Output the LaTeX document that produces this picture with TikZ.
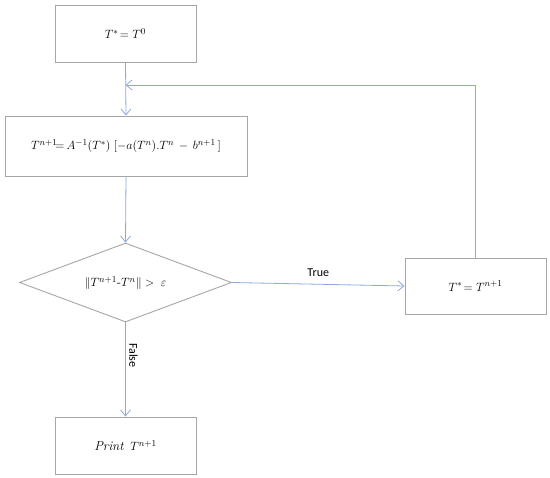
\documentclass[tikz,border=0pt]{standalone}
\usepackage{fontspec}
\newfontfamily\labelfont{Carlito}
\usetikzlibrary{arrows.meta,shapes.geometric}
\definecolor{boxgray}{HTML}{A6A6A6}
\definecolor{linkblue}{HTML}{8EA9DB}
\tikzset{
  boxnode/.style={draw=boxgray, line width=0.9pt, minimum width=#1, minimum height=57pt, inner sep=0pt, font=\fontsize{13}{15}\selectfont},
  decnode/.style={draw=boxgray, line width=0.9pt, diamond, minimum width=212pt, minimum height=79pt, inner sep=0pt, font=\fontsize{13}{15}\selectfont},
  link/.style={draw=linkblue, line width=0.8pt, -{Straight Barb[length=6pt,width=10pt]}},
  linkplain/.style={draw=linkblue, line width=0.8pt},
  lbl/.style={font=\labelfont\fontsize{12}{14}\selectfont}
}
\begin{document}
\begin{tikzpicture}[x=1pt,y=-1pt]
\useasboundingbox (0,0) rectangle (550,478);
\node[boxnode=141pt] (init) at (125.5,33.5) {$T^{*}\!=T^{0}$};
\node[boxnode=242pt, minimum height=60pt] (upd) at (126,146) {$T^{n+1}\!{=}\, A^{-1}(T^{*})\;[-a(T^{n}).T^{n}\,-\,b^{n+1}\,]$};
\node[decnode] (cond) at (125.5,282.5) {\smash{\makebox[0pt]{\raisebox{-4pt}{$\|T^{n+1}\mbox{-}T^{n}\|>\;\varepsilon$}}}};
\node[boxnode=141pt, minimum height=56pt] (swap) at (475.5,286) {$T^{*}\!=T^{n+1}$};
\node[boxnode=141pt] (out) at (125.5,445.5) {$\mathit{Print}\;\;T^{n+1}$};
\coordinate (corner) at (swap.north |- 0,85);
\coordinate (join) at (init.south |- 0,85);
\draw[link] (init.south) -- (upd.north);
\draw[link] (upd.south) -- (cond.north);
\draw[link] (cond.east) -- node[lbl, above, pos=0.5, yshift=4pt] {True} (swap.west);
\draw[link] (cond.south) -- node[lbl, pos=0.35, rotate=-90, anchor=south] {False} (out.north);
\draw[linkplain] (swap.north) -- (corner);
\draw[link] (corner) -- (join);
\end{tikzpicture}
\end{document}
